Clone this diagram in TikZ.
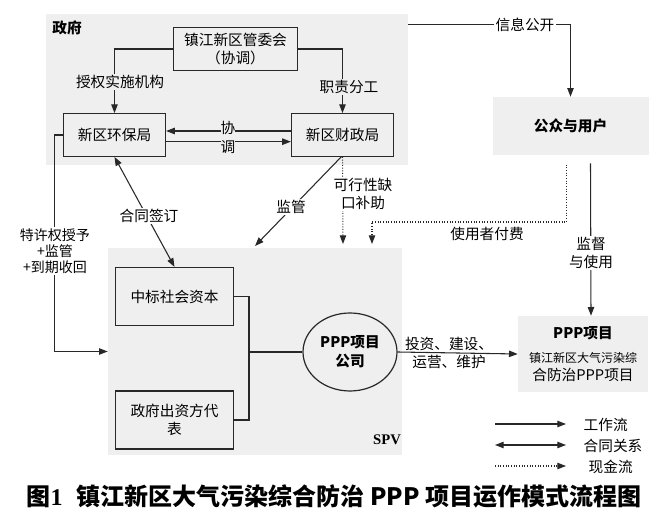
\documentclass[tikz,border=0pt]{standalone}
\usepackage{fontspec}
\setmainfont{Noto Sans CJK SC}
\newfontfamily\latinserif{Liberation Serif}
\usetikzlibrary{arrows.meta,positioning,calc,fit,shapes.geometric}
\definecolor{regionfill}{RGB}{239,239,239}
\definecolor{ink}{RGB}{40,40,40}

\begin{document}
\begin{tikzpicture}[
  x=0.75pt, y=-0.75pt,
  font=\fontsize{11}{14}\selectfont,
  region/.style={fill=regionfill, draw=none, inner sep=0pt},
  unit/.style={
    draw=ink,
    line width=.9pt,
    fill=regionfill,
    align=center,
    inner sep=2pt
  },
  govbox/.style={unit, minimum width=76.5pt, minimum height=32pt},
  spvbox/.style={unit, minimum width=88pt, minimum height=43.5pt},
  plainbox/.style={region, align=center},
  tag/.style={fill=white, inner sep=1pt, align=center},
  govtag/.style={tag, fill=regionfill},
  flow/.style={-{Triangle[length=2.3mm,width=1.7mm]}, draw=ink, line width=.8pt},
  contract/.style={flow, {Triangle[length=2.3mm,width=1.7mm]}-{Triangle[length=2.3mm,width=1.7mm]}},
  cash/.style={flow, dash pattern=on .8pt off 1.2pt},
  link/.style={draw=ink, line width=.8pt}
]
\useasboundingbox (0,0) rectangle (668,530);

% government side
\node[region, fit={(46,14) (408,165)}] (gov) {};
\node[font=\fontsize{11}{14}\selectfont\bfseries] (govlabel) at (67,28) {政府};
\node[unit, minimum width=93pt, minimum height=32pt] (gwh) at (235.5,49)
  {镇江新区管委会\\（协调）};
\node[govbox] (hbj) at (114.5,135) {新区环保局};
\node[govbox] (czj) at (342.5,135) {新区财政局};

\draw[flow] (gwh.west) -| (hbj.north);
\draw[flow] (gwh.east) -| (czj.north);
\node[govtag] at (120,82) {授权实施机构};
\node[govtag] at (349,87) {职责分工};

\draw[flow] ([yshift=3pt]czj.west) -- ([yshift=3pt]hbj.east);
\draw[flow] ([yshift=-5pt]hbj.east) -- ([yshift=-5pt]czj.west);
\node[govtag, inner sep=0pt] at (228,137.5) {协\\调};

% public and project
\node[plainbox, minimum width=117pt, minimum height=43.5pt,
  font=\fontsize{11}{14}\selectfont\bfseries] (gzyh) at (570.5,126) {公众与用户};
\node[plainbox, minimum width=97.5pt, minimum height=57pt] (ppp) at (583,354)
  {\textbf{PPP项目}\\[4pt]
   \fontsize{9}{15}\selectfont 镇江新区大气污染综\\合防治PPP项目};

\draw[flow] ([yshift=-8pt]gov.north east) -| (gzyh.north);
\node[tag] at (525,25) {信息公开};

\draw[flow] ([xshift=15pt,yshift=-6pt]gzyh.south) -- ([xshift=6pt]ppp.north);
\node[tag, font=\fontsize{11}{13}\selectfont] at (591,253) {监督\\与使用};

% SPV side
\node[region, fit={(108,248) (402,455)}] (spv) {};
\node[font=\latinserif\fontsize{11}{14}\selectfont\bfseries] (spvlabel) at (387,440) {SPV};
\node[spvbox] (zb) at (174.5,296.5) {中标社会资本};
\node[spvbox] (zfcz) at (174.5,420) {政府出资方代\\表};
\node[unit, ellipse, minimum width=70.5pt, minimum height=58.5pt,
  font=\fontsize{11}{14}\selectfont\bfseries] (gs) at (350,352) {PPP项目\\公司};

\coordinate (jn) at (249,352);
\draw[link] (zb.east) -| (jn) |- (zfcz.east);
\draw[link] (jn) -- (gs.west);

\draw[flow] (gs.east) -- (ppp.west);
\node[align=center] at (449,353) {投资、建设、\\运营、维护};

% links between the two sides
\draw[flow] (hbj.west) -- ++(-8,0) |- (spv.west);
\node[tag, font=\fontsize{10.5}{12}\selectfont] at (55,251) {特许权授予\\+监管\\+到期收回};

\draw[contract] (hbj.south) -- (zb.north);
\node[tag] at (149,216) {合同签订};

\coordinate (supend) at (255,246);
\draw[flow] ([xshift=-1pt]czj.south) -- (supend);
\node[tag] at (291,207) {监管};

\coordinate (subend) at (343,244);
\draw[cash] (czj.south) -- (subend);
\node[tag, font=\fontsize{11}{13.5}\selectfont] at (363,194) {可行性缺\\口补助};

\coordinate (payturn) at (372,222);
\coordinate (payend) at (372,244);
\draw[cash] ([xshift=-3pt,yshift=-7pt]gzyh.south) |- (payturn) -- (payend);
\node at (487,234) {使用者付费};

% legend
\coordinate (lgA) at (495,424);
\coordinate (lgB) at (495,445);
\coordinate (lgC) at (495,466);
\draw[flow] (lgA) -- ++(71,0);
\draw[contract] (lgB) -- ++(71,0);
\draw[cash] (lgC) -- ++(71,0);
\node[anchor=west] (lgwork) at (579,425) {工作流};
\node[anchor=west] (lgcontract) at (579,446) {合同关系};
\node[anchor=west] (lgcash) at (584,467) {现金流};

% caption
\node[font=\fontsize{18}{20}\selectfont\bfseries] (caption) at (334,496)
  {图{\latinserif 1}\hspace{0.6em}镇江新区大气污染综合防治 PPP 项目运作模式流程图};
\end{tikzpicture}
\end{document}
